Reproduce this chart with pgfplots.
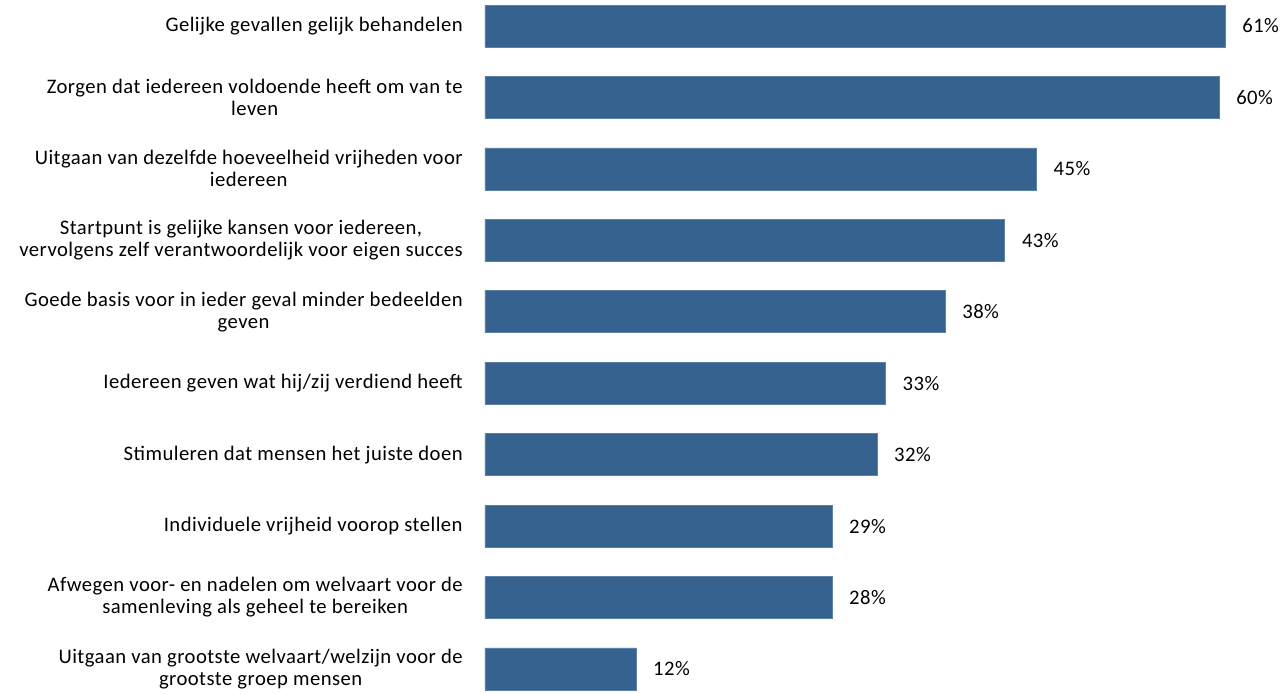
\documentclass[border=0pt]{standalone}
\usepackage{pgfplots}
\pgfplotsset{compat=1.18}
\usepackage{fontspec}
\setmainfont{Carlito}[LetterSpace=2.2]
\definecolor{barblue}{RGB}{53,98,143}
\begin{document}
\begin{tikzpicture}
\begin{axis}[
  scale only axis,
  width=599.25pt, height=520.5pt,
  xbar, bar width=31.5pt,
  xmin=0, xmax=65.63,
  ymin=-0.364, ymax=9.35, y dir=reverse,
  clip=false,
  axis line style={draw=none},
  xtick=\empty,
  ytick={0,...,9},
  major tick length=0pt,
  yticklabels={
    {Gelijke gevallen gelijk behandelen},
    {Zorgen dat iedereen voldoende heeft om van te\\leven},
    {Uitgaan van dezelfde hoeveelheid vrijheden voor\\iedereen},
    {Startpunt is gelijke kansen voor iedereen,\\vervolgens zelf verantwoordelijk voor eigen succes},
    {Goede basis voor in ieder geval minder bedeelden\\geven},
    {Iedereen geven wat hij/zij verdiend heeft},
    {Stimuleren dat mensen het juiste doen},
    {Individuele vrijheid voorop stellen},
    {Afwegen voor- en nadelen om welvaart voor de\\samenleving als geheel te bereiken},
    {Uitgaan van grootste welvaart/welzijn voor de\\grootste groep mensen}
  },
  yticklabel style={font=\fontsize{15.5}{16.5}\selectfont, align=center, anchor=east, inner sep=0pt, xshift=-16.5pt},
  point meta=explicit symbolic,
  nodes near coords={\pgfplotspointmeta\%},
  nodes near coords style={font=\fontsize{15.5}{16.5}\selectfont, anchor=west, inner sep=0pt, xshift=12.75pt},
]
\addplot[fill=barblue, draw=barblue!80!white] coordinates {
  (60.8,0) [61]
  (60.3,1) [60]
  (45.3,2) [45]
  (42.7,3) [43]
  (37.8,4) [38]
  (32.9,5) [33]
  (32.2,6) [32]
  (28.5,7) [29]
  (28.5,8) [28]
  (12.4,9) [12]
};
\end{axis}
\path (current axis.south west) ++(-363.75pt,0) coordinate (bbl);
\path[use as bounding box] (bbl) rectangle (current axis.north east);
\end{tikzpicture}
\end{document}
